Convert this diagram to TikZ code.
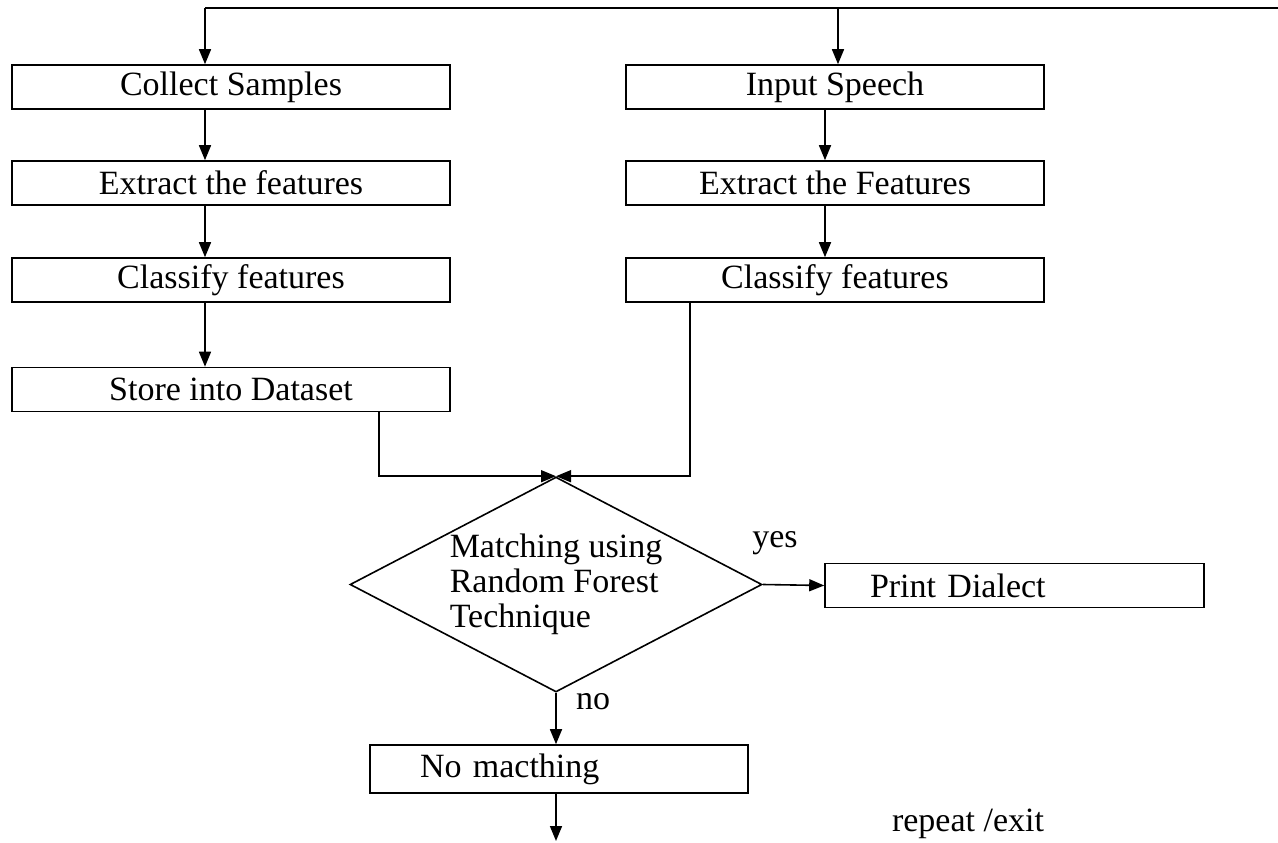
\documentclass[tikz,border=0pt]{standalone}
\usepackage{fontspec}
\setmainfont{Liberation Serif}
\usetikzlibrary{shapes.geometric,arrows.meta}
\newcommand\flowfont{\fontsize{34}{35}\selectfont}

\begin{document}
\begin{tikzpicture}[x=1pt, y=-1pt, line width=1.6pt,
    box/.style={draw, minimum width=438pt, minimum height=44pt, inner sep=0pt, font=\flowfont},
    rbox/.style={box, minimum width=418pt},
    arr/.style={-{Triangle[length=15pt,width=12pt]}},
    lab/.style={font=\flowfont, inner sep=0pt}]
    \useasboundingbox (0,0) rectangle (1278,843);
    % training side (left column)
    \node[box] (collect)  at (231,87)    {Collect Samples};
    \node[box] (extractL) at (231,183)   {Extract the features};
    \node[box] (classL)   at (231,280)   {Classify features};
    \node[box] (store)    at (231,389.5) {Store into Dataset};
    % testing side (right column)
    \node[rbox] (input)    at (835,87)  {Input Speech};
    \node[rbox] (extractR) at (835,183) {Extract the Features};
    \node[rbox] (classR)   at (835,280) {Classify features};
    % decision and outcomes
    \node[draw, diamond, aspect=1.916, minimum width=412pt, minimum height=215pt,
          inner sep=0pt, align=left, font=\flowfont] (match) at (556,584.5)
          {Matching using\\Random Forest\\Technique};
    \node[box, minimum width=379pt, text width=289pt, inner xsep=45pt, align=left]
          (print) at (1014.5,585.5) {Print Dialect};
    \node[box, minimum width=378pt, minimum height=48pt, text width=278pt, inner xsep=50pt, align=left]
          (nomatch) at (559,769) {No macthing};
    \node[lab] (yes)    at (775,543) {yes};
    \node[lab] (no)     at (593,702) {no};
    \node[lab] (repeat) at (968,824) {repeat /exit};
    % helper points for the connectors
    \coordinate (topR) at (1278,8);
    \coordinate (topL) at (205,8);
    \coordinate (topM) at (838,8);
    \coordinate (lx) at (205,0);
    \coordinate (rx) at (825,0);
    \coordinate (sx) at (379,0);
    \coordinate (cx) at (690,0);
    \coordinate (out) at (556,841);
    % connectors
    \draw (topR) -- (topL);
    \draw[arr] (topL) -- (topL |- collect.north);
    \draw[arr] (topM) -- (topM |- input.north);
    \draw[arr] (collect.south -| lx) -- (extractL.north -| lx);
    \draw[arr] (extractL.south -| lx) -- (classL.north -| lx);
    \draw[arr] (classL.south -| lx) -- (store.north -| lx);
    \draw[arr] (input.south -| rx) -- (extractR.north -| rx);
    \draw[arr] (extractR.south -| rx) -- (classR.north -| rx);
    \draw[arr] (store.south -| sx) |- (match.north);
    \draw[arr] (classR.south -| cx) |- (match.north);
    \draw[arr] (match.east) -- (print.west);
    \draw[arr] (match.south) -- (match.south |- nomatch.north);
    \draw[arr] (nomatch.south -| out) -- (out);
\end{tikzpicture}
\end{document}
